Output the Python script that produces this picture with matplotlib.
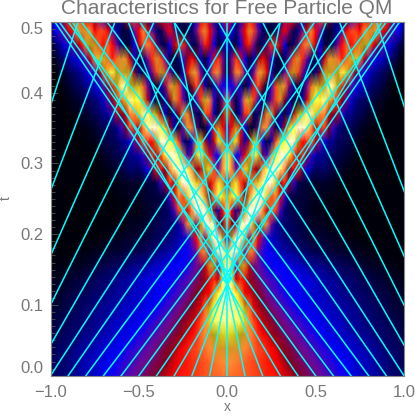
import numpy as np
from matplotlib import pyplot as plt
from matplotlib.colors import LinearSegmentedColormap
from matplotlib.ticker import MultipleLocator

# density, on a 0-9 colour level scale
# one row per time step, x = -1.0 ... 0.0 in steps of 0.025 (right half is the mirror)
density_left = [
    [.8,.9,1,1,1.1,1.2,1.3,1.4,1.5,1.5,1.6,1.7,1.9,2,2.2,2.3,2.5,2.7,2.8,3,3.2,3.4,3.6,3.8,4,4.2,4.5,4.7,5,5.1,5.2,5.2,5.3,5.4,5.5,5.6,5.6,5.7,5.7,5.8,5.8],
    [.8,.9,1,1,1.1,1.2,1.3,1.4,1.5,1.6,1.6,1.7,1.8,1.9,2,2.1,2.3,2.4,2.6,2.7,2.9,3,3.2,3.4,3.6,3.8,4,4.3,4.7,5,5.1,5.2,5.3,5.4,5.5,5.6,5.7,5.8,5.9,6,6],
    [.7,.8,.9,1,1,1.1,1.2,1.3,1.4,1.4,1.5,1.6,1.7,1.8,1.8,1.9,2,2.2,2.3,2.4,2.6,2.7,2.9,3,3.3,3.5,3.8,4,4.3,4.7,5,5.2,5.4,5.5,5.7,5.8,6,6.2,6.4,6.5,6.6],
    [.6,.7,.8,.8,.9,1,1,1.1,1.2,1.2,1.3,1.4,1.5,1.5,1.6,1.7,1.8,1.8,1.9,2,2.2,2.3,2.5,2.7,2.8,3,3.2,3.5,3.7,4,4.3,4.7,5,5.3,5.7,6,6.5,7,7.3,7.5,7.6],
    [.5,.6,.7,.7,.8,.9,.9,1,1.1,1.1,1.2,1.3,1.3,1.4,1.5,1.6,1.6,1.7,1.8,1.8,1.9,2,2.2,2.3,2.5,2.7,2.8,3,3.3,3.6,3.9,4.2,4.5,5,5.5,6,7.6,8.2,8.4,8.5,8.5],
    [.4,.5,.5,.6,.7,.7,.8,.9,1,1,1.1,1.2,1.2,1.3,1.4,1.4,1.5,1.6,1.6,1.7,1.7,1.8,1.9,1.9,2,2.2,2.4,2.6,2.8,3,3.3,3.7,4,4.3,4.8,5.7,7,8.1,8.4,8.6,8.7],
    [.3,.4,.4,.5,.6,.6,.7,.8,.8,.9,1,1,1.1,1.2,1.2,1.3,1.4,1.4,1.5,1.6,1.6,1.7,1.8,1.8,1.9,1.9,2,2.2,2.4,2.6,2.8,3,3.5,4,4.3,4.7,5,6.5,8,8.7,9],
    [.2,.3,.3,.3,.4,.5,.5,.6,.7,.7,.8,.9,1,1,1.1,1.2,1.3,1.3,1.4,1.5,1.6,1.7,1.8,1.8,1.9,2,2,2.1,2.2,2.4,2.5,2.7,3,3.3,3.8,4.2,5,5.2,4.5,8,9],
    [.1,.1,.2,.2,.2,.3,.3,.3,.4,.4,.5,.6,.7,.7,.8,.9,1,1,1.1,1.2,1.2,1.3,1.4,1.5,1.6,1.7,1.8,1.9,2,2,2.1,2.2,2.5,3,3.2,4.5,6.5,7,3,7.5,9.2],
    [.1,.1,.1,.1,.1,.1,.2,.2,.2,.2,.3,.3,.4,.4,.5,.4,.5,.6,.6,.7,.7,.8,.9,1,1.1,1.2,1.3,1.4,1.5,1.7,1.9,2.1,2.4,3,5.7,6.2,3,6.5,9.2,9.2,7.5],
    [.1,.1,.1,.1,.1,.1,.1,.1,.1,.1,.1,.1,.2,.2,.3,.3,.3,.4,.4,.5,.5,.5,.6,.7,.8,.9,1,1.1,1.2,1.4,1.6,2.2,3,5,6.2,3.5,7.5,9.2,9.2,7,2.5],
    [.1,.1,.1,.1,.1,.1,.1,.1,.1,.1,.1,.1,.1,.1,.1,.2,.2,.2,.3,.3,.3,.4,.5,.6,.7,.8,.9,1,1.1,1.4,3,6,7,3.5,7,9.2,9.2,8.7,4,4,6],
    [.1,.1,.1,.1,.1,.1,.1,.1,.1,.1,.1,.1,.1,.1,.1,.1,.2,.2,.2,.2,.2,.3,.4,.5,.6,.7,.8,1,2.5,5.5,5.7,4.5,6,9,9.2,9.2,7,4,1.5,5,8.5],
    [.1,.1,.1,.1,.1,.1,.1,.1,.1,.1,.1,.1,.1,.1,.1,.2,.2,.2,.3,.3,.3,.4,.5,.5,.5,.6,.8,2.5,5,6.2,5.5,7.5,9.2,9.2,8.5,6.5,4,6,8.2,7.8,6.5],
    [.1,.1,.1,.1,.1,.1,.1,.1,.1,.1,.1,.1,.1,.1,.2,.2,.3,.3,.4,.4,.4,.4,.5,.6,.8,2.5,4.2,5.3,4.5,7.5,9.2,9.2,8.5,7.5,6,5.5,4.5,5.5,7.8,6.5,3],
    [.1,.1,.1,.1,.1,.1,.1,.1,.1,.1,.1,.1,.2,.2,.4,.4,.6,.8,1,1,.8,1.3,2,3.7,5.2,5,4,6,8.5,9.2,9.2,8.2,6,4,4.5,7,7.8,5.5,3,6,8.3],
    [.1,.1,.1,.1,.1,.1,.1,.1,.1,.1,.1,.2,.4,.4,.6,.7,.8,1,1.2,1.2,1.5,2.5,4.2,5.3,4.5,5.5,8,9.2,9,8,6.5,2.5,3.5,7.5,8.5,7,5,2.5,2,6.5,8.3],
    [.1,.1,.1,.1,.1,.1,.1,.1,.1,.2,.2,.4,.6,.7,.8,.8,1.2,1.3,1.8,3,4.5,5.7,5.3,5,7,9,9.2,8,7.7,5.5,1.5,.4,2,6.5,7.5,4.5,1.5,4.5,7.8,6.5,3],
    [.1,.1,.1,.1,.1,.1,.1,.2,.2,.3,.4,.6,.8,.8,.9,1.2,2.5,4,5.5,5.3,4.5,6,8.5,9,9,8,7.5,4.5,1.5,.5,3,6.2,6,3.5,.6,.4,2,5.2,6.8,5,3],
    [.1,.1,.1,.1,.1,.2,.2,.4,.4,.6,.8,.9,1.2,1.3,2.5,4.5,4,4.5,6,6,7.5,8.7,8.5,7.5,7,4.5,1.5,.5,1.5,4,6.3,6.2,4,1,.8,5.5,5.3,1.5,.6,4.5,6.8],
    [.1,.1,.1,.1,.2,.3,.4,.6,.8,.9,1,1.2,1.7,3,4,5.2,5.7,7.5,8.7,8,8.2,7.2,4.5,1.5,.4,.6,1.5,4,6.5,5.5,3,1,.8,2.5,5.5,7.2,6,2.5,.5,3,6],
    [.1,.1,.1,.2,.4,.6,.8,.9,1.2,1.4,1.7,2,3,4,5.2,7,8.5,8.7,7,6.7,7.3,5.7,3,.9,.3,1.5,3.5,6,6.9,5.5,2.5,.6,4,5.5,5,1.5,.3,1.5,3,2,2.5],
    [.1,.1,.3,.4,.7,.9,1.1,1.3,1.7,2.2,2.8,4,5.5,7.5,8.2,7,6.3,7,6.5,4,1.2,.4,1.5,3.2,5.5,6.9,5.5,3,.8,.3,1.5,5,6.5,6,3,1,3,5.8,6.2,3.5,.8],
    [.1,.3,.7,1,1.3,1.6,1.8,2.2,3,4.5,6,7.5,7.3,5.7,5.2,5.8,6.5,6.2,4.5,1.5,.5,1,3,5.3,6.5,5.5,3,.8,.3,1,2.5,4,5,4,1.5,.4,2,4.8,5.3,3,.5],
    [.3,.8,1.2,1.8,2.3,3,4,5,6.5,7,6.7,5.5,5,5.7,5,3,1,.5,.5,2,4.5,5.5,6,5.5,3.5,1,.4,2,4.5,5.3,5.3,3.5,1,.5,3,5.2,4.5,2,.5,.8,2],
    [.8,2,2.5,3,4.5,5,6,6.5,6.5,6,5,5.5,5.5,5,3,1.5,.7,.5,1,3,5,6,5,3,1,.8,3.5,5,3.5,1,.4,.5,1,3,5.5,6.3,5,3,1,2,4.5],
    [1.5,2,3,4,5.5,6.5,6.5,5.5,5,5,4,3,2,1,.5,.5,1.5,4,5.5,5.5,3,1,.5,1.5,3.5,5,5,3,1,.5,1,1,.8,2,4.5,5,3.5,1.5,.8,3,5],
]

# characteristics: x at t=0 and x at t=0.5 (negative starts are the mirror)
x_start = [0, .1, .2, .3, .4, .5, .6, .7, .8, .9, 1, 1.1, 1.2, 1.3, 1.4, 1.5]
x_end = [0, -.3, -.56, -.875, -.975, -.95, -.9, -.825, -.68, -.495, -.3, -.05, .2, .415, .635, .845]

level_colors = ['#000000', '#00006e', '#0000ff', '#6e0a96', '#82001e',
                '#ff0000', '#ff8c32', '#aaa014', '#ffff28', '#ffffdc']
text_color = '#777777'

half = np.array(density_left)
density = np.hstack([half, half[:, -2::-1]])
x = np.linspace(-1, 1, density.shape[1])
t = np.arange(density.shape[0]) * 0.0195

cmap = LinearSegmentedColormap.from_list('qm', level_colors, N=512)

plt.rcParams['font.family'] = ['Liberation Sans', 'DejaVu Sans']
fig = plt.figure(figsize=(4.15, 4.15), dpi=100)
ax = fig.add_axes([50.5 / 415, 1 - 375.7 / 415, 353.5 / 415, 353.7 / 415])

ax.pcolormesh(x, t, density, cmap=cmap, vmin=0, vmax=9, shading='gouraud')

for x0, x1 in zip(x_start, x_end):
    ax.plot([x0, x1], [0, 0.5], color='#00ffff', lw=1.1)
    if x0 != 0:
        ax.plot([-x0, -x1], [0, 0.5], color='#00ffff', lw=1.1)

ax.set_xlim(-1, 1)
ax.set_ylim(0, 0.5)
ax.set_xticks([-1, -0.5, 0, 0.5, 1])
ax.set_yticks([0, 0.1, 0.2, 0.3, 0.4, 0.5])
ax.yaxis.set_minor_locator(MultipleLocator(0.01))
ax.tick_params(axis='x', length=0, labelsize=12, labelcolor=text_color, pad=7)
ax.tick_params(axis='y', which='major', direction='in', length=5, width=0.6, color='#555555',
               labelsize=12, labelcolor=text_color, pad=5)
ax.tick_params(axis='y', which='minor', direction='in', length=3, width=0.6, color='#555555')
ylabels = ax.get_yticklabels()
ylabels[0].set_verticalalignment('bottom')
ylabels[-1].set_verticalalignment('top')

for s in ax.spines.values():
    s.set_color('#888888')
    s.set_linewidth(0.8)

fig.text(227 / 415, 1 - 407 / 415, 'x', color=text_color, fontsize=10, ha='center', va='center')
fig.text(6 / 415, 1 - 198 / 415, 't', color=text_color, fontsize=10, rotation=90, ha='center', va='center')
fig.text(227 / 415, 1 - 9 / 415, 'Characteristics for Free Particle QM', color=text_color,
         fontsize=15, ha='center', va='center')

fig.savefig('out.png', dpi=100)
